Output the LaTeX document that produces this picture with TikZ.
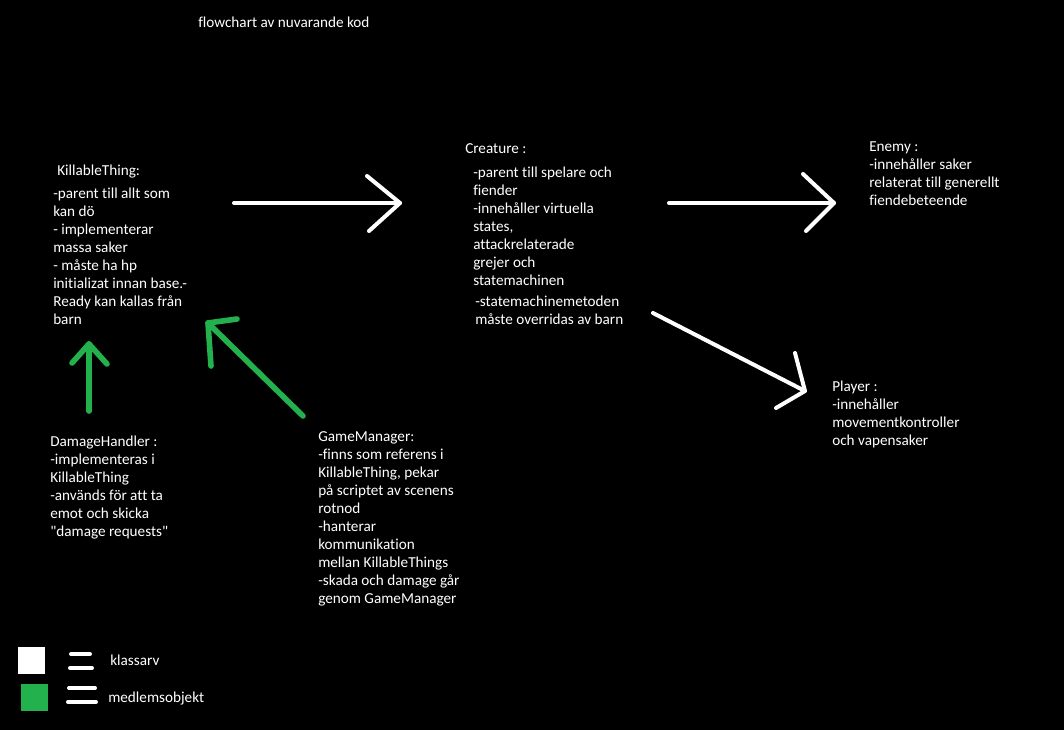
\documentclass[tikz,border=0pt]{standalone}
\usepackage{fontspec}
\setmainfont{Carlito}[Ligatures={TeXOff,NoCommon}]
\begin{document}
\begin{tikzpicture}[x=0.75pt,y=-0.75pt,
  txt/.style={anchor=north west,inner sep=0pt,align=left,text=white,
    font=\fontsize{11.4}{13.5}\selectfont},
  inherit/.style={draw=white,line width=3pt,line cap=round,line join=round},
  member/.style={draw=paintgreen,line width=4.2pt,line cap=round,line join=round},
  legline/.style={draw=white,line width=3pt,line cap=round}]
\definecolor{paintgreen}{HTML}{22B14C}
\useasboundingbox[fill=black] (0,0) rectangle (1064,730);

% heading
\node[txt] (title) at (198,17) {flowchart av nuvarande kod};

% class blocks
\node[txt] (killT) at (57,165) {KillableThing:};
\node[txt] (killB) at (53,188) {-parent till allt som\\kan dö\\- implementerar\\massa saker\\- måste ha hp\\initializat innan base.-\\Ready kan kallas från\\barn};

\node[txt] (creaT) at (465,143) {Creature :};
\node[txt] (creaB) at (473,167) {-parent till spelare och\\fiender\\-innehåller virtuella\\states,\\attackrelaterade\\grejer och\\statemachinen};
\node[txt] (creaC) at (475,296) {-statemachinemetoden\\måste overridas av barn};

\node[txt] (enemy) at (869,141) {Enemy :\\-innehåller saker\\relaterat till generellt\\fiendebeteende};
\node[txt] (player) at (832,381) {Player :\\-innehåller\\movementkontroller\\och vapensaker};

\node[txt] (damage) at (50,436) {DamageHandler :\\-implementeras i\\KillableThing\\-används för att ta\\emot och skicka\\"damage requests"};
\node[txt] (game) at (318,431) {GameManager:\\-finns som referens i\\KillableThing, pekar\\på scriptet av scenens\\rotnod\\-hanterar\\kommunikation\\mellan KillableThings\\-skada och damage går\\genom GameManager};

% arrow end points
\coordinate (kcT) at (234,203); \coordinate (kcH) at (400,203);
\coordinate (kcA) at (367,176); \coordinate (kcB) at (369,231);
\coordinate (ceT) at (669,203); \coordinate (ceH) at (834,203);
\coordinate (ceA) at (803,174); \coordinate (ceB) at (806,231);
\coordinate (cpT) at (653,313); \coordinate (cpH) at (805,391);
\coordinate (cpA) at (795,353); \coordinate (cpB) at (776,408);
\coordinate (dkT) at (89,411);  \coordinate (dkH) at (89,344);
\coordinate (dkA) at (72,363);  \coordinate (dkB) at (107,364);
\coordinate (gkT) at (303,416); \coordinate (gkH) at (208,323);
\coordinate (gkA) at (237,319); \coordinate (gkB) at (211,366);

% inheritance
\draw[inherit] (kcT) -- (kcH); \draw[inherit] (kcA) -- (kcH) -- (kcB);
\draw[inherit] (ceT) -- (ceH); \draw[inherit] (ceA) -- (ceH) -- (ceB);
\draw[inherit] (cpT) -- (cpH); \draw[inherit] (cpA) -- (cpH) -- (cpB);

% member objects
\draw[member] (dkT) -- (dkH); \draw[member] (dkA) -- (dkH) -- (dkB);
\draw[member] (gkT) -- (gkH); \draw[member] (gkA) -- (gkH) -- (gkB);

% legend
\fill[white] (18,647) rectangle (45,674);
\fill[paintgreen] (21,684) rectangle (48,711);
\draw[legline] (71,654) -- (90,654);
\draw[legline] (70,668) -- (92,668);
\draw[legline] (69,688) -- (95,688);
\draw[legline] (68,702) -- (96,702);
\node[txt] (klass) at (110,655) {klassarv};
\node[txt] (medlem) at (108,692) {medlemsobjekt};
\end{tikzpicture}
\end{document}
